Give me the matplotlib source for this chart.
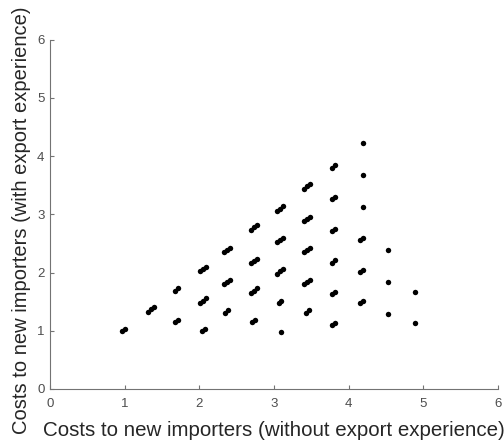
import matplotlib.pyplot as plt

# cost pairs: without export experience (x) vs with export experience (y)
x_cost = [0.97, 1.01,
          1.31, 1.35, 1.39,
          1.68, 1.72, 1.68, 1.72,
          2.01, 2.05, 2.09, 2.01, 2.05, 2.09, 2.03, 2.07,
          2.33, 2.37, 2.41, 2.33, 2.37, 2.41, 2.35, 2.39,
          2.69, 2.73, 2.77, 2.69, 2.73, 2.77, 2.69, 2.73, 2.77, 2.71, 2.75,
          3.04, 3.08, 3.12, 3.04, 3.08, 3.12, 3.04, 3.08, 3.12, 3.06, 3.10, 3.10,
          3.40, 3.44, 3.48, 3.40, 3.44, 3.48, 3.40, 3.44, 3.48, 3.40, 3.44, 3.48, 3.43, 3.47,
          3.77, 3.81, 3.77, 3.81, 3.77, 3.81, 3.77, 3.81, 3.77, 3.81, 3.77, 3.81,
          4.19, 4.19, 4.19, 4.15, 4.19, 4.15, 4.19, 4.15, 4.19,
          4.52, 4.52, 4.52,
          4.89, 4.89]
y_cost = [0.99, 1.03,
          1.33, 1.37, 1.41,
          1.69, 1.73, 1.15, 1.19,
          2.02, 2.06, 2.10, 1.48, 1.52, 1.56, 0.99, 1.03,
          2.35, 2.39, 2.43, 1.80, 1.84, 1.88, 1.31, 1.35,
          2.74, 2.78, 2.82, 2.16, 2.20, 2.24, 1.65, 1.69, 1.73, 1.15, 1.19,
          3.06, 3.10, 3.14, 2.52, 2.56, 2.60, 1.98, 2.02, 2.06, 1.47, 1.51, 0.98,
          3.44, 3.48, 3.52, 2.88, 2.92, 2.96, 2.35, 2.39, 2.43, 1.80, 1.84, 1.88, 1.31, 1.35,
          3.80, 3.84, 3.26, 3.30, 2.71, 2.75, 2.17, 2.21, 1.63, 1.67, 1.10, 1.14,
          4.22, 3.68, 3.13, 2.56, 2.60, 2.01, 2.05, 1.47, 1.51,
          2.38, 1.83, 1.29,
          1.67, 1.13]

ticks = [0, 1, 2, 3, 4, 5, 6]

plt.rcParams['font.family'] = ['Liberation Sans', 'DejaVu Sans']

fig = plt.figure(figsize=(5.04, 4.42), dpi=100)
axes = fig.add_axes([0.0992, 0.12, 0.889, 0.79])
axes.plot(x_cost, y_cost, 'o', color='black', markersize=3.9, markeredgewidth=0)

axes.set_xlim(0, 6)
axes.set_ylim(0, 6)
axes.set_xticks(ticks)
axes.set_yticks(ticks)
for side in ['top', 'right']:
    axes.spines[side].set_visible(False)
for side in ['left', 'bottom']:
    axes.spines[side].set_color('0.45')
    axes.spines[side].set_linewidth(0.8)
axes.tick_params(direction='in', length=3, width=0.8, color='0.45',
                 labelcolor='0.3', labelsize=9.5)
axes.tick_params(axis='x', pad=6.5)
axes.tick_params(axis='y', pad=4)

axes.set_xlabel('Costs to new importers (without export experience)',
                fontsize=14.8, color='0.15', labelpad=8)
axes.set_ylabel('Costs to new importers (with export experience)',
                fontsize=14.5, color='0.15')
# keep the long y label inside the figure height
axes.yaxis.set_label_coords(-0.043, 0.484)

fig.savefig('out.png', dpi=100)
